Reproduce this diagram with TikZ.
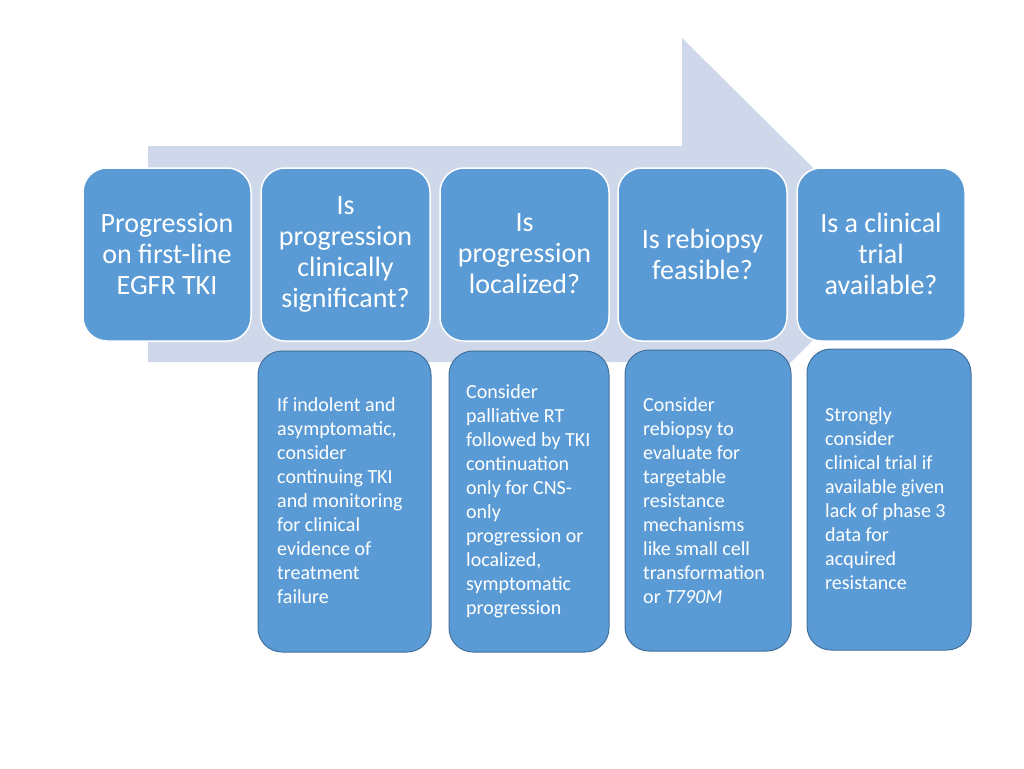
\documentclass[tikz,border=0pt]{standalone}
\usepackage{fontspec}
\setmainfont{Carlito}
\definecolor{arrowbg}{RGB}{207,216,234}
\definecolor{boxblue}{RGB}{91,155,213}
\definecolor{boxedge}{RGB}{65,113,156}
\begin{document}
\begin{tikzpicture}[x=1pt,y=-1pt,
  topbox/.style={draw=white,line width=1.5pt,fill=boxblue,rounded corners=24pt},
  botbox/.style={draw=boxedge,line width=1pt,fill=boxblue,rounded corners=24pt},
  toptext/.style={text=white,align=center,font=\fontsize{28}{31}\selectfont,inner sep=0pt},
  bottext/.style={text=white,align=left,font=\fontsize{20}{24}\selectfont,inner sep=0pt,anchor=west}]
\useasboundingbox (0,0) rectangle (1024,768);
\fill[arrowbg] (148,146) -- (682,146) -- (682,38) -- (900,254) -- (682,470) -- (682,362) -- (148,362) -- cycle;
% top row
\draw[topbox] (83,168) rectangle (251,341);
\draw[topbox] (261,168) rectangle (430,341);
\draw[topbox] (440,168) rectangle (609,341);
\draw[topbox] (618,168) rectangle (787,341);
\draw[topbox] (797,168) rectangle (965,341);
\node[toptext] (t1) at (167,254) {Progression\\on first-line\\EGFR TKI};
\node[toptext] (t2) at (345.5,254) {Is\\progression\\clinically\\significant?};
\node[toptext] (t3) at (524.5,254) {Is\\progression\\localized?};
\node[toptext] (t4) at (702.5,254) {Is rebiopsy\\feasible?};
\node[toptext] (t5) at (881,254) {Is a clinical\\trial\\available?};
% bottom row
\draw[botbox] (258,351) rectangle (431,652);
\draw[botbox] (449,351) rectangle (609,652);
\draw[botbox] (625,350) rectangle (791,651);
\draw[botbox] (807,349) rectangle (971,650);
\node[bottext] (b1) at (277,501) {If indolent and\\asymptomatic,\\consider\\continuing TKI\\and monitoring\\for clinical\\evidence of\\treatment\\failure};
\node[bottext] (b2) at (466,501) {Consider\\palliative RT\\followed by TKI\\continuation\\only for CNS-\\only\\progression or\\localized,\\symptomatic\\progression};
\node[bottext] (b3) at (643,501) {Consider\\rebiopsy to\\evaluate for\\targetable\\resistance\\mechanisms\\like small cell\\transformation\\or \textit{T790M}};
\node[bottext] (b4) at (825,499) {Strongly\\consider\\clinical trial if\\available given\\lack of phase 3\\data for\\acquired\\resistance};
\end{tikzpicture}
\end{document}
